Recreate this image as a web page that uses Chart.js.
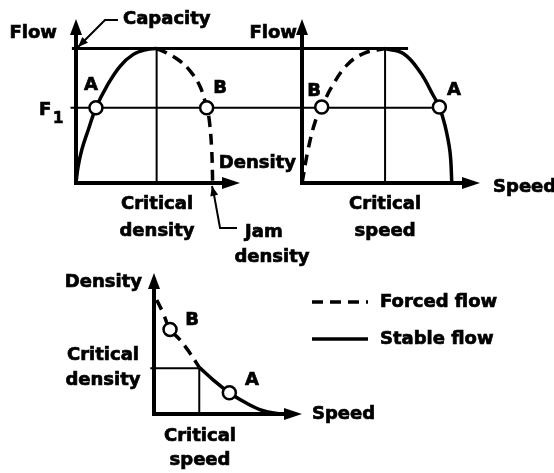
<!DOCTYPE html>
<html>
<head>
<title>Flow, density and speed relationships</title>
<script src="https://cdn.jsdelivr.net/npm/chart.js"></script>
<style>
  body { margin: 0; background: #fff; }
  #wrap { position: relative; width: 554px; height: 473px; }
  #wrap canvas { position: absolute; left: 0; top: 0; }
</style>
</head>
<body>
<div id="wrap">
  <canvas id="flowDensity" width="554" height="473"></canvas>
  <canvas id="flowSpeed" width="554" height="473"></canvas>
  <canvas id="densitySpeed" width="554" height="473"></canvas>
</div>
<script>
// schematic values
var capacity = 100;
var f1 = 56;
var criticalDensity = 59;
var criticalSpeed = 56;
var criticalSpeed2 = 36.7;   // bottom panel
var criticalDensity2 = 39;   // bottom panel

// flow vs density  [density, flow]
var stableFD = [[0,0],[1.5,12],[4.2,24.6],[9,39.6],[14.6,56],[22.5,71.9],[32.2,86.8],[41.7,95.5],[51.6,99.3],[59,100]];
var forcedFD = [[59,100],[66.3,96.8],[75,91.5],[83,84],[90.7,71.9],[95.6,56],[97.5,47],[99.3,24.6],[100,0]];
var pointsFD = [[14.6,56],[95.6,56]];

// flow vs speed  [speed, flow]
var forcedFS = [[0,0],[0.9,5.4],[4.2,25.4],[8.8,45.3],[13.3,56.5],[20,71.4],[30.1,87.5],[41.3,96.3],[56,100]];
var stableFS = [[56,100],[68.3,96.3],[79.6,82.6],[88.5,65.1],[92.6,56.5],[96.4,42.8],[99.8,22.9],[101,0]];
var pointsFS = [[13.3,56.5],[92.6,56.5]];

// density vs speed  [speed, density]
var forcedDS = [[2.2,97],[7.5,85.7],[13,72],[21.1,63.1],[29.2,51.7],[36.7,39.7]];
var stableDS = [[36.7,39.7],[48.1,28.9],[61.1,18.1],[75.2,9.1],[88.6,2.8],[102,0]];
var pointsDS = [[13,72],[61.1,18.1]];

var legendLabels = ['Forced flow', 'Stable flow'];
var dashPattern = [11, 7];

var FONT = '"DejaVu Sans", sans-serif';

function xy(arr) {
  return arr.map(function (p) { return { x: p[0], y: p[1] }; });
}

function line(pts, width, dash, tension) {
  return {
    data: xy(pts),
    showLine: true,
    borderColor: '#000',
    borderWidth: width,
    borderDash: dash || [],
    borderCapStyle: 'butt',
    pointRadius: 0,
    tension: tension || 0,
    clip: false
  };
}

function circles(pts) {
  return {
    data: xy(pts),
    showLine: false,
    pointRadius: 6.5,
    pointBackgroundColor: '#fff',
    pointBorderColor: '#000',
    pointBorderWidth: 2.5,
    clip: false
  };
}

// axes with arrowheads, drawn from the scales
var arrowAxes = {
  id: 'arrowAxes',
  beforeDatasetsDraw: function (chart) {
    var ctx = chart.ctx, xs = chart.scales.x, ys = chart.scales.y;
    var x0 = xs.getPixelForValue(xs.min), x1 = xs.getPixelForValue(xs.max);
    var y0 = ys.getPixelForValue(ys.min), y1 = ys.getPixelForValue(ys.max);
    ctx.save();
    ctx.strokeStyle = '#000';
    ctx.fillStyle = '#000';
    ctx.lineWidth = 4;
    ctx.beginPath();
    ctx.moveTo(x0, y1 + 12);
    ctx.lineTo(x0, y0);
    ctx.lineTo(x1 - 14, y0);
    ctx.stroke();
    ctx.beginPath();
    ctx.moveTo(x0, y1);
    ctx.lineTo(x0 - 6, y1 + 16);
    ctx.lineTo(x0 + 6, y1 + 16);
    ctx.closePath();
    ctx.fill();
    ctx.beginPath();
    ctx.moveTo(x1, y0);
    ctx.lineTo(x1 - 18, y0 - 6);
    ctx.lineTo(x1 - 18, y0 + 6);
    ctx.closePath();
    ctx.fill();
    ctx.restore();
  }
};

// small arrowheads at the last point of leader lines
var leaderHeads = {
  id: 'leaderHeads',
  afterDatasetsDraw: function (chart) {
    var ctx = chart.ctx;
    chart.data.datasets.forEach(function (ds, i) {
      if (!ds.arrowHead) return;
      var pts = chart.getDatasetMeta(i).data;
      var a = pts[pts.length - 2], b = pts[pts.length - 1];
      var ang = Math.atan2(b.y - a.y, b.x - a.x);
      ctx.save();
      ctx.translate(b.x, b.y);
      ctx.rotate(ang);
      ctx.fillStyle = '#000';
      ctx.beginPath();
      ctx.moveTo(0, 0);
      ctx.lineTo(-10, -4);
      ctx.lineTo(-10, 4);
      ctx.closePath();
      ctx.fill();
      ctx.restore();
    });
  }
};

function drawLabel(ctx, text, x, y, size, align) {
  ctx.font = 'bold ' + size + 'px ' + FONT;
  ctx.textAlign = align;
  ctx.textBaseline = 'middle';
  ctx.lineWidth = 0.7;
  ctx.strokeStyle = '#000';
  ctx.fillStyle = '#000';
  ctx.fillText(text, x, y);
  ctx.strokeText(text, x, y);
}

function textPlugin(items) {
  return {
    id: 'texts',
    afterDatasetsDraw: function (chart) {
      var ctx = chart.ctx, xs = chart.scales.x, ys = chart.scales.y;
      ctx.save();
      items.forEach(function (t) {
        drawLabel(ctx, t.text, xs.getPixelForValue(t.x), ys.getPixelForValue(t.y), t.size || 18, t.align || 'center');
      });
      ctx.restore();
    }
  };
}

function legendPlugin(at) {
  return {
    id: 'sketchLegend',
    afterDatasetsDraw: function (chart) {
      var ctx = chart.ctx, xs = chart.scales.x, ys = chart.scales.y;
      var styles = [dashPattern, []];
      ctx.save();
      legendLabels.forEach(function (lab, i) {
        var y = ys.getPixelForValue(at.y[i]);
        ctx.strokeStyle = '#000';
        ctx.lineWidth = 3.5;
        ctx.setLineDash(styles[i]);
        ctx.beginPath();
        ctx.moveTo(xs.getPixelForValue(at.x0), y);
        ctx.lineTo(xs.getPixelForValue(at.x1), y);
        ctx.stroke();
        ctx.setLineDash([]);
        drawLabel(ctx, lab, xs.getPixelForValue(at.xt), y, 18, 'left');
      });
      ctx.restore();
    }
  };
}

function baseOptions(pad) {
  return {
    responsive: false,
    maintainAspectRatio: false,
    animation: false,
    events: [],
    layout: { padding: pad },
    plugins: { legend: { display: false }, tooltip: { enabled: false } },
    scales: {
      x: { type: 'linear', display: false, min: 0, max: 120 },
      y: { type: 'linear', display: false, min: 0, max: 122 }
    }
  };
}

// flow vs density
new Chart(document.getElementById('flowDensity'), {
  type: 'scatter',
  data: {
    datasets: [
      circles(pointsFD),
      line(stableFD, 3.5, null, 0.4),
      line(forcedFD, 3.5, dashPattern, 0.4),
      line([[-3, capacity], [165.4, capacity]], 3),
      line([[-4, f1], [165.4, f1]], 2),
      line([[criticalDensity, 0], [criticalDensity, capacity]], 2),
      Object.assign(line([[30.7, 121.3], [21.2, 121.3], [1.5, 101.2]], 2), { arrowHead: true }),
      Object.assign(line([[117.8, -33.5], [105.4, -33.5], [101, -8.9], [99.5, -2.2]], 2), { arrowHead: true })
    ]
  },
  options: baseOptions({ left: 76, right: 314, top: 19, bottom: 290 }),
  plugins: [arrowAxes, leaderHeads, textPlugin([
    { text: 'Flow', x: -13.9, y: 111.6, align: 'right' },
    { text: 'Capacity', x: 34.4, y: 122, align: 'left' },
    { text: 'F', x: -27.1, y: 54.3, align: 'left' },
    { text: '1', x: -16.8, y: 47.6, align: 'left', size: 15 },
    { text: 'A', x: 11, y: 72.9 },
    { text: 'B', x: 105.4, y: 70.7 },
    { text: 'Density', x: 161, y: 14.9, align: 'right' },
    { text: 'Critical', x: 59.3, y: -15.6 },
    { text: 'density', x: 59.3, y: -35.7 },
    { text: 'Jam', x: 123.7, y: -36.5, align: 'left' },
    { text: 'density', x: 143.4, y: -55 }
  ])]
});

// flow vs speed
new Chart(document.getElementById('flowSpeed'), {
  type: 'scatter',
  data: {
    datasets: [
      circles(pointsFS),
      line(forcedFS, 3.5, dashPattern, 0.4),
      line(stableFS, 3.5, null, 0.4),
      line([[0, capacity], [71.5, capacity]], 3),
      line([[0, f1], [92.6, f1]], 2),
      line([[criticalSpeed, 0], [criticalSpeed, capacity]], 2)
    ]
  },
  options: baseOptions({ left: 302, right: 74, top: 19, bottom: 290 }),
  plugins: [arrowAxes, textPlugin([
    { text: 'Flow', x: -3.4, y: 111.6, align: 'right' },
    { text: 'Speed', x: 128.8, y: -3, align: 'left' },
    { text: 'Critical', x: 56, y: -15.6 },
    { text: 'speed', x: 56, y: -35.7 },
    { text: 'B', x: 8.1, y: 68.4 },
    { text: 'A', x: 102.5, y: 69.1 }
  ])]
});

// density vs speed
var optsDS = baseOptions({ left: 154, right: 252, top: 273, bottom: 59 });
optsDS.scales.y.max = 120;
new Chart(document.getElementById('densitySpeed'), {
  type: 'scatter',
  data: {
    datasets: [
      circles(pointsDS),
      line(forcedDS, 3.5, dashPattern, 0.4),
      line(stableDS, 3.5, null, 0.4),
      line([[-3, criticalDensity2], [criticalSpeed2, criticalDensity2]], 2),
      line([[criticalSpeed2, 0], [criticalSpeed2, criticalDensity2]], 2)
    ]
  },
  options: optsDS,
  plugins: [arrowAxes, textPlugin([
    { text: 'Density', x: -9.7, y: 112.3, align: 'right' },
    { text: 'B', x: 30.8, y: 80 },
    { text: 'A', x: 79.5, y: 28.9 },
    { text: 'Critical', x: -41.4, y: 50.2 },
    { text: 'density', x: -41.4, y: 28.9 },
    { text: 'Speed', x: 128.1, y: 0, align: 'left' },
    { text: 'Critical', x: 37.3, y: -18.7 },
    { text: 'speed', x: 37.3, y: -39.1 }
  ]), legendPlugin({ x0: 128.1, x1: 173.5, xt: 183.2, y: [95.3, 63.8] })]
});
</script>
</body>
</html>
